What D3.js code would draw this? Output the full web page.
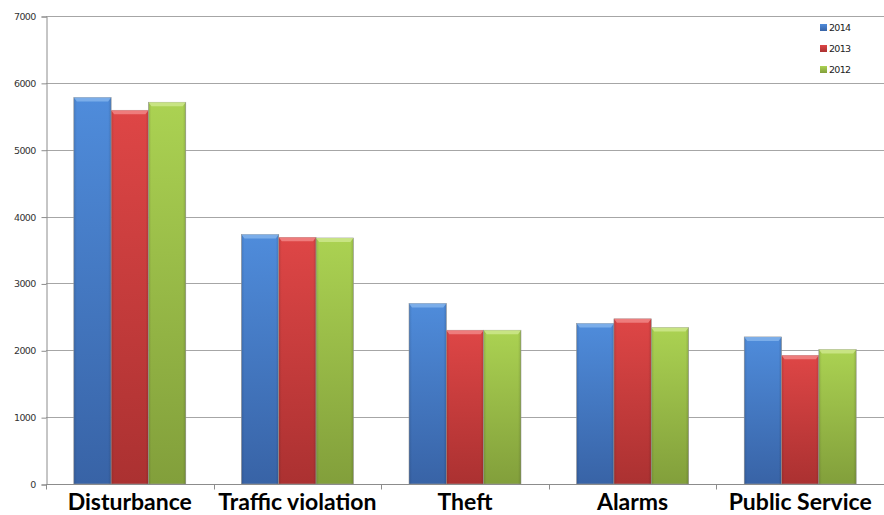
<!DOCTYPE html>
<html>
<head>
<meta charset="utf-8">
<script src="https://cdn.jsdelivr.net/npm/d3@7"></script>
<style>
  html, body { margin: 0; padding: 0; background: #fff; }
  svg { display: block; }
</style>
</head>
<body>
<svg id="chart" width="884" height="515"></svg>
<script>
// Calls by type, three years
const categories = ["Disturbance", "Traffic violation", "Theft", "Alarms", "Public Service"];
const years = ["2014", "2013", "2012"];
const values2014 = [5780, 3730, 2700, 2400, 2200];
const values2013 = [5590, 3690, 2300, 2470, 1925];
const values2012 = [5710, 3680, 2300, 2340, 2010];
const yTicks = [0, 1000, 2000, 3000, 4000, 5000, 6000, 7000];

const seriesValues = [values2014, values2013, values2012];
const palette = [
  { top: "#4f8cdb", bottom: "#3863a6", cap: "#86b5ec" },
  { top: "#de4646", bottom: "#ab3131", cap: "#f28a8a" },
  { top: "#abd252", bottom: "#829f3b", cap: "#d0e890" }
];

const W = 884, H = 515;
const margin = { left: 46, right: 0, top: 16, bottom: 31 };
const svg = d3.select("#chart");
const defs = svg.append("defs");

palette.forEach((p, i) => {
  const g = defs.append("linearGradient").attr("id", "fill" + i)
    .attr("x1", 0).attr("y1", 0).attr("x2", 0).attr("y2", 1);
  g.append("stop").attr("offset", "0%").attr("stop-color", p.top);
  g.append("stop").attr("offset", "100%").attr("stop-color", p.bottom);
  const s = defs.append("linearGradient").attr("id", "side" + i)
    .attr("x1", 0).attr("y1", 0).attr("x2", 1).attr("y2", 0);
  s.append("stop").attr("offset", "0%").attr("stop-color", "#000").attr("stop-opacity", 0.12);
  s.append("stop").attr("offset", "8%").attr("stop-color", "#000").attr("stop-opacity", 0);
  s.append("stop").attr("offset", "92%").attr("stop-color", "#000").attr("stop-opacity", 0);
  s.append("stop").attr("offset", "100%").attr("stop-color", "#000").attr("stop-opacity", 0.14);
});

// one cell per category; each group of bars takes the middle two-thirds
const cell = d3.scaleBand().domain(categories).range([margin.left, W - margin.right]);
const groupW = cell.bandwidth() * 0.668;
const x1 = d3.scaleBand().domain(years).range([0, groupW]);
const y = d3.scaleLinear().domain([0, 7000]).range([H - margin.bottom, margin.top]);

// gridlines
svg.append("g").selectAll("line").data(yTicks.filter(d => d > 0)).join("line")
  .attr("x1", margin.left).attr("x2", W)
  .attr("y1", d => Math.round(y(d)) + 0.5).attr("y2", d => Math.round(y(d)) + 0.5)
  .attr("stroke", "#a6a6a6").attr("stroke-width", 1);

// y axis
const yAxis = d3.axisLeft(y).tickValues(yTicks).tickSize(5).tickPadding(6).tickFormat(d3.format("d"));
const gy = svg.append("g").attr("transform", `translate(${margin.left + 0.5},0.5)`).call(yAxis);
gy.selectAll("path, line").attr("stroke", "#8c8c8c");
gy.selectAll("text").attr("font-family", "DejaVu Sans, Verdana, sans-serif")
  .attr("font-size", 9.5).attr("letter-spacing", -0.7).attr("fill", "#333");

// bars
const groups = svg.append("g").selectAll("g").data(categories).join("g")
  .attr("transform", c => `translate(${cell(c) + (cell.bandwidth() - groupW) / 2},0)`);

years.forEach((yr, si) => {
  const bw = x1.bandwidth();
  const bx = x1(yr);
  groups.each(function (c, ci) {
    const v = seriesValues[si][ci];
    const g = d3.select(this);
    const top = y(v), bot = y(0);
    g.append("rect").attr("x", bx).attr("y", top).attr("width", bw).attr("height", bot - top)
      .attr("fill", `url(#fill${si})`).attr("stroke", "#9a9a9a").attr("stroke-width", 0.6);
    g.append("rect").attr("x", bx).attr("y", top).attr("width", bw).attr("height", bot - top)
      .attr("fill", `url(#side${si})`);
    // bevelled top cap
    const capH = 4;
    g.append("path")
      .attr("d", `M${bx},${top} L${bx + bw},${top} L${bx + bw - 3},${top + capH} L${bx + 3},${top + capH} Z`)
      .attr("fill", palette[si].cap).attr("opacity", 0.8);
  });
});

// x axis
const gx = svg.append("g").attr("transform", `translate(0,${Math.round(y(0)) + 0.5})`);
gx.append("line").attr("x1", margin.left).attr("x2", W).attr("stroke", "#8c8c8c");
gx.selectAll("line.tick").data(d3.range(categories.length + 1)).join("line")
  .attr("class", "tick")
  .attr("x1", i => Math.round(margin.left + i * cell.step()) + 0.5)
  .attr("x2", i => Math.round(margin.left + i * cell.step()) + 0.5)
  .attr("y1", 0).attr("y2", 5).attr("stroke", "#8c8c8c");

svg.append("g").selectAll("text").data(categories).join("text")
  .attr("x", c => cell(c) + cell.bandwidth() / 2)
  .attr("y", 510)
  .attr("text-anchor", "middle")
  .attr("font-family", "Lato, Carlito, sans-serif")
  .attr("font-weight", "bold").attr("font-size", 23).attr("fill", "#000")
  .text(c => c);

// legend
const legend = svg.append("g").selectAll("g").data(years).join("g")
  .attr("transform", (d, i) => `translate(820,${25 + i * 21})`);
legend.append("rect").attr("x", 0).attr("y", -1).attr("width", 7).attr("height", 7)
  .attr("fill", (d, i) => `url(#fill${i})`);
legend.append("text").attr("x", 9).attr("y", 6)
  .attr("font-family", "DejaVu Sans, Verdana, sans-serif").attr("font-size", 9.5)
  .attr("letter-spacing", -0.7).attr("fill", "#222").text(d => d);
</script>
</body>
</html>
